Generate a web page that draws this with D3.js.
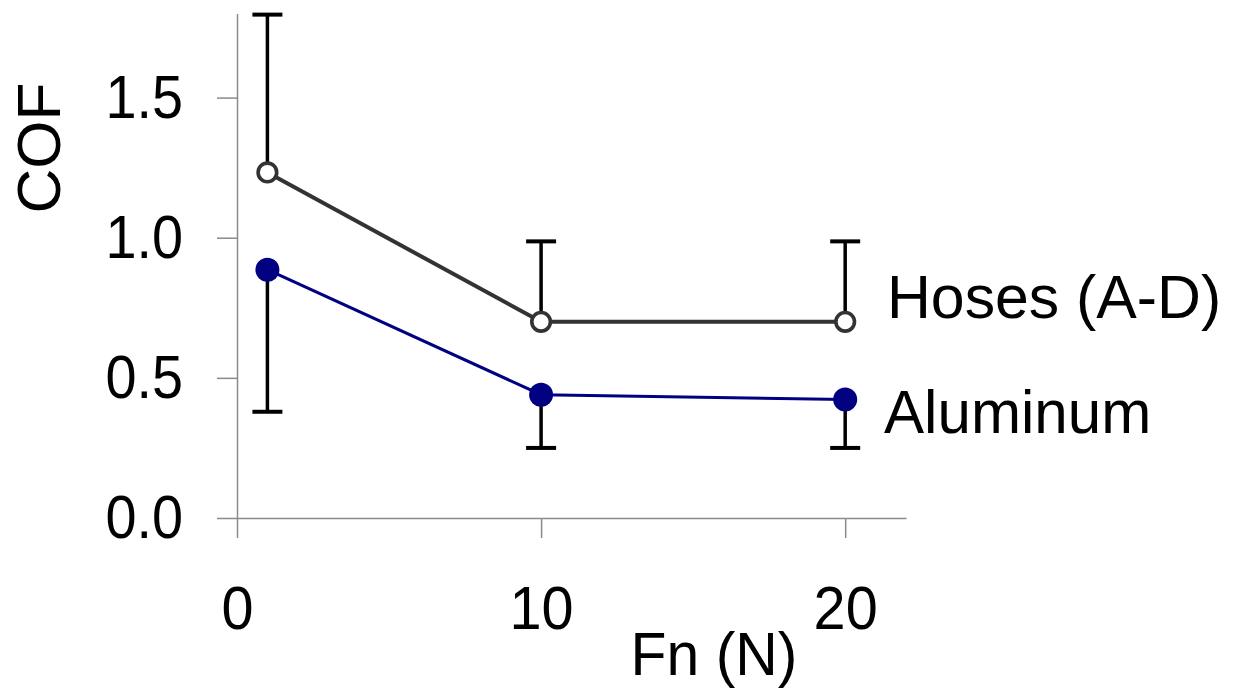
<!DOCTYPE html>
<html>
<head>
<meta charset="utf-8">
<script src="https://cdn.jsdelivr.net/npm/d3@7"></script>
<style>
  body { margin: 0; background: #fff; }
  svg { display: block; }
  text { font-family: "Liberation Sans", Arial, sans-serif; }
</style>
</head>
<body>
<svg id="chart" width="1245" height="691"></svg>
<script>
"use strict";

// force (N)
const fn = [1, 10, 20];

// hoses: mean and upper error bar end
const hosesCof = [1.233, 0.70, 0.70];
const hosesUpper = [1.796, 0.987, 0.987];

// aluminum: mean and lower error bar end
const aluCof = [0.886, 0.44, 0.4225];
const aluLower = [0.379, 0.25, 0.25];

const yTicks = [0, 0.5, 1.0, 1.5];
const xTicks = [0, 10, 20];

const svg = d3.select("#chart");

const x = d3.scaleLinear().domain([0, 22]).range([237, 906]);
const y = d3.scaleLinear().domain([0, 1.8]).range([518, 13.5]);

// axes
const yAxis = d3.axisLeft(y)
   .tickValues(yTicks)
   .tickFormat(d3.format(".1f"))
   .tickSize(20)
   .tickSizeOuter(0)
   .tickPadding(34);

const xAxis = d3.axisBottom(x)
   .tickValues(xTicks)
   .tickFormat(d3.format("d"))
   .tickSize(20)
   .tickSizeOuter(0)
   .tickPadding(47);

const gy = svg.append("g")
   .attr("transform", `translate(${x(0)},0)`)
   .call(yAxis);

const gx = svg.append("g")
   .attr("transform", `translate(0,${y(0)})`)
   .call(xAxis);

[gx, gy].forEach(g => {
   g.selectAll("path, line").attr("stroke", "#8a8a8a").attr("stroke-width", 1.5);
   g.selectAll("text")
      .attr("fill", "#000")
      .style("font-size", "62px")
      .style("font-family", '"Liberation Sans", Arial, sans-serif');
});

// the original digits are a little narrower than Liberation's
gy.selectAll(".tick text")
   .attr("x", 0)
   .attr("transform", "translate(-54,0) scale(0.9,1)");
gx.selectAll(".tick text")
   .attr("transform", "scale(0.93,1)");

// axis titles
svg.append("text")
   .attr("transform", "translate(60,148) rotate(-90)")
   .attr("text-anchor", "middle")
   .style("font-size", "62px")
   .text("COF");

svg.append("text")
   .attr("transform", "translate(714,675) scale(0.95,1)")
   .attr("text-anchor", "middle")
   .style("font-size", "62px")
   .text("Fn (N)");

// error bars
const capW = 15;

function errorBars(ends, means, cls) {
   const g = svg.append("g").attr("class", cls);
   g.selectAll("line.stem")
      .data(fn)
      .join("line")
      .attr("class", "stem")
      .attr("x1", d => x(d))
      .attr("x2", d => x(d))
      .attr("y1", (d, i) => y(means[i]))
      .attr("y2", (d, i) => y(ends[i]))
      .attr("stroke", "#000")
      .attr("stroke-width", 3.5);
   g.selectAll("line.cap")
      .data(fn)
      .join("line")
      .attr("class", "cap")
      .attr("x1", d => x(d) - capW)
      .attr("x2", d => x(d) + capW)
      .attr("y1", (d, i) => y(ends[i]))
      .attr("y2", (d, i) => y(ends[i]))
      .attr("stroke", "#000")
      .attr("stroke-width", 4);
}

errorBars(hosesUpper, hosesCof, "hoses-err");
errorBars(aluLower, aluCof, "alu-err");

// lines
const line = d3.line()
   .x(d => x(d[0]))
   .y(d => y(d[1]));

svg.append("path")
   .datum(d3.zip(fn, hosesCof))
   .attr("d", line)
   .attr("fill", "none")
   .attr("stroke", "#333333")
   .attr("stroke-width", 4);

svg.append("path")
   .datum(d3.zip(fn, aluCof))
   .attr("d", line)
   .attr("fill", "none")
   .attr("stroke", "#000080")
   .attr("stroke-width", 3);

// markers
svg.selectAll("circle.hoses")
   .data(d3.zip(fn, hosesCof))
   .join("circle")
   .attr("class", "hoses")
   .attr("cx", d => x(d[0]))
   .attr("cy", d => y(d[1]))
   .attr("r", 9.3)
   .attr("fill", "#fff")
   .attr("stroke", "#333333")
   .attr("stroke-width", 3.6);

svg.selectAll("circle.alu")
   .data(d3.zip(fn, aluCof))
   .join("circle")
   .attr("class", "alu")
   .attr("cx", d => x(d[0]))
   .attr("cy", d => y(d[1]))
   .attr("r", 12)
   .attr("fill", "#000080");

// series labels
svg.append("text")
   .attr("transform", "translate(887,318) scale(0.98,1)")
   .style("font-size", "62px")
   .text("Hoses (A-D)");

svg.append("text")
   .attr("transform", "translate(884,433) scale(0.97,1)")
   .style("font-size", "62px")
   .text("Aluminum");
</script>
</body>
</html>
